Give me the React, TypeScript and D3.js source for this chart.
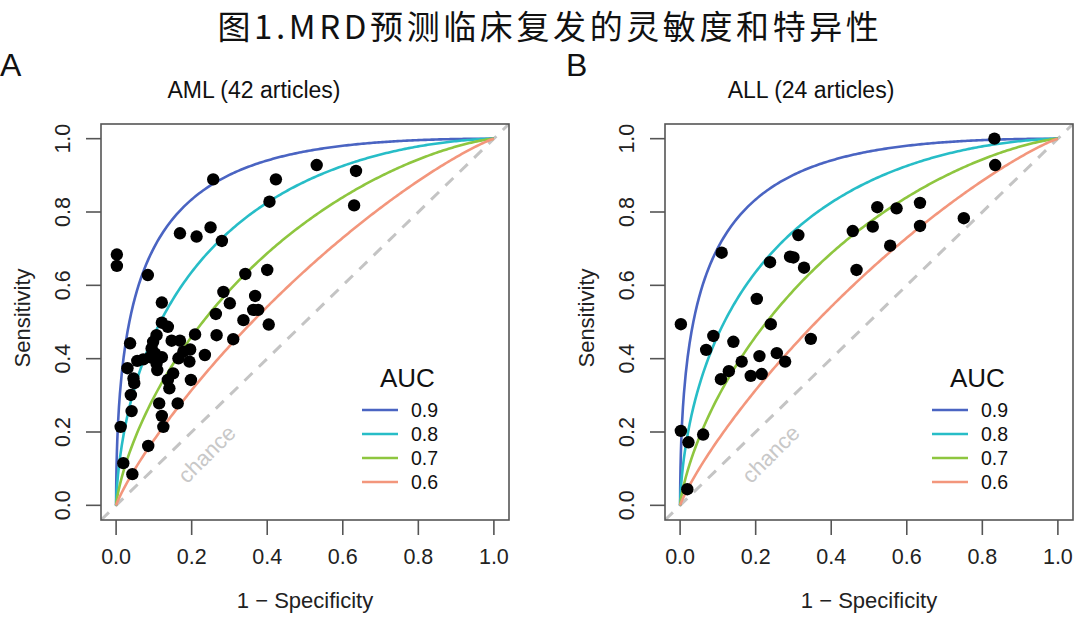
import React from 'react';
import * as d3 from 'd3';

// ---------- data ----------
const AUC_LEVELS = [0.9, 0.8, 0.7, 0.6];
const AUC_COLORS = ['#4a64c2', '#27bdc7', '#8ec63f', '#f3967c'];
const X_TICKS = [0, 0.2, 0.4, 0.6, 0.8, 1.0];
const Y_TICKS = [0, 0.2, 0.4, 0.6, 0.8, 1.0];

const AML_FPR = [
  0.257, 0.423, 0.406, 0.531, 0.635, 0.630, 0.169, 0.213, 0.250, 0.280,
  0.002, 0.002, 0.084, 0.342, 0.400, 0.284, 0.368, 0.301, 0.121, 0.363,
  0.376, 0.264, 0.337, 0.404, 0.121, 0.137, 0.209, 0.266, 0.310, 0.037,
  0.107, 0.098, 0.147, 0.169, 0.235, 0.196, 0.178, 0.194, 0.165, 0.094,
  0.103, 0.090, 0.072, 0.056, 0.121, 0.107, 0.109, 0.030, 0.046, 0.048,
  0.151, 0.137, 0.141, 0.198, 0.039, 0.041, 0.114, 0.163, 0.121, 0.125,
  0.012, 0.085, 0.019, 0.043,
];
const AML_TPR = [
  0.889, 0.889, 0.828, 0.928, 0.912, 0.818, 0.742, 0.733, 0.758, 0.721,
  0.684, 0.653, 0.628, 0.631, 0.642, 0.582, 0.571, 0.551, 0.553, 0.533,
  0.533, 0.522, 0.505, 0.493, 0.498, 0.487, 0.466, 0.464, 0.453, 0.442,
  0.464, 0.446, 0.449, 0.449, 0.410, 0.425, 0.419, 0.392, 0.401, 0.428,
  0.414, 0.404, 0.398, 0.394, 0.404, 0.387, 0.369, 0.374, 0.346, 0.333,
  0.360, 0.342, 0.319, 0.342, 0.301, 0.257, 0.278, 0.278, 0.244, 0.214,
  0.214, 0.162, 0.115, 0.085,
];

const ALL_FPR = [
  0.832, 0.834, 0.522, 0.573, 0.635, 0.457, 0.510, 0.635, 0.751, 0.556,
  0.467, 0.110, 0.313, 0.291, 0.300, 0.238, 0.328, 0.203, 0.002, 0.240,
  0.088, 0.141, 0.069, 0.346, 0.210, 0.163, 0.256, 0.278, 0.129, 0.108,
  0.187, 0.216, 0.002, 0.022, 0.061, 0.019,
];
const ALL_TPR = [
  1.000, 0.928, 0.813, 0.810, 0.825, 0.748, 0.760, 0.762, 0.783, 0.708,
  0.642, 0.689, 0.737, 0.678, 0.676, 0.663, 0.648, 0.563, 0.494, 0.494,
  0.462, 0.446, 0.424, 0.454, 0.407, 0.392, 0.415, 0.392, 0.366, 0.344,
  0.353, 0.358, 0.203, 0.172, 0.193, 0.044,
];

// ---------- binormal ROC helpers ----------
function normCdf(x: number): number {
  const t = 1 / (1 + 0.3275911 * Math.abs(x) / Math.SQRT2);
  const y =
    1 -
    (((((1.061405429 * t - 1.453152027) * t + 1.421413741) * t - 0.284496736) * t + 0.254829592) * t) *
      Math.exp(-(x * x) / 2);
  return x >= 0 ? 0.5 * (1 + y) : 0.5 * (1 - y);
}
function normInv(p: number): number {
  if (p <= 0) return -Infinity;
  if (p >= 1) return Infinity;
  const a = [-3.969683028665376e1, 2.209460984245205e2, -2.759285104469687e2, 1.38357751867269e2, -3.066479806614716e1, 2.506628277459239];
  const b = [-5.447609879822406e1, 1.615858368580409e2, -1.556989798598866e2, 6.680131188771972e1, -1.328068155288572e1];
  const c = [-7.784894002430293e-3, -3.223964580411365e-1, -2.400758277161838, -2.549671010315269, 4.374664141464968, 2.938163982698783];
  const d = [7.784695709041462e-3, 3.224671290700398e-1, 2.445134137142996, 3.754408661907416];
  const pl = 0.02425;
  let q: number, r: number;
  if (p < pl) {
    q = Math.sqrt(-2 * Math.log(p));
    return (((((c[0] * q + c[1]) * q + c[2]) * q + c[3]) * q + c[4]) * q + c[5]) / ((((d[0] * q + d[1]) * q + d[2]) * q + d[3]) * q + 1);
  }
  if (p <= 1 - pl) {
    q = p - 0.5;
    r = q * q;
    return ((((((a[0] * r + a[1]) * r + a[2]) * r + a[3]) * r + a[4]) * r + a[5]) * q) / (((((b[0] * r + b[1]) * r + b[2]) * r + b[3]) * r + b[4]) * r + 1);
  }
  q = Math.sqrt(-2 * Math.log(1 - p));
  return -(((((c[0] * q + c[1]) * q + c[2]) * q + c[3]) * q + c[4]) * q + c[5]) / ((((d[0] * q + d[1]) * q + d[2]) * q + d[3]) * q + 1);
}
function rocCurve(auc: number): [number, number][] {
  const sep = Math.SQRT2 * normInv(auc);
  const grid = [0, 0.0002, 0.0005, 0.001, 0.002, 0.003, 0.005, 0.0075].concat(d3.range(0.01, 1.0001, 0.005));
  return grid.map((f) => {
    if (f <= 0) return [0, 0];
    if (f >= 1) return [1, 1];
    return [f, normCdf(sep + normInv(f))];
  });
}

// ---------- layout ----------
const BOX_TOP = 124;
const BOX_W = 408;
const BOX_H = 396;
const FONT = '"Liberation Sans", Arial, Helvetica, sans-serif';
const AXIS_COL = '#555';

type PanelProps = {
  left: number;
  letter: string;
  letterX: number;
  title: string;
  titleX: number;
  fpr: number[];
  tpr: number[];
  legendDx: number;
};

function Panel({ left, letter, letterX, title, titleX, fpr, tpr, legendDx }: PanelProps) {
  const x = d3.scaleLinear().domain([-0.04, 1.04]).range([left, left + BOX_W]);
  const y = d3.scaleLinear().domain([-0.04, 1.04]).range([BOX_TOP + BOX_H, BOX_TOP]);
  const line = d3
    .line<[number, number]>()
    .x((d) => x(d[0]))
    .y((d) => y(d[1]));
  const bottom = BOX_TOP + BOX_H;
  const clipId = 'clip-' + letter;
  const chanceX = x(0.24);
  const chanceY = y(0.14);
  const lgX = left + legendDx;
  return (
    <g>
      <defs>
        <clipPath id={clipId}>
          <rect x={left} y={BOX_TOP} width={BOX_W} height={BOX_H} />
        </clipPath>
      </defs>
      <text x={letterX} y={76} fontFamily={FONT} fontSize={32} fill="#111">
        {letter}
      </text>
      <text x={titleX} y={98} fontFamily={FONT} fontSize={23} fill="#111" textAnchor="middle">
        {title}
      </text>
      {/* chance line */}
      <g clipPath={`url(#${clipId})`}>
        <line
          x1={x(-0.04)}
          y1={y(-0.04)}
          x2={x(1.04)}
          y2={y(1.04)}
          stroke="#c4c4c4"
          strokeWidth={3}
          strokeDasharray="11 9"
        />
        {AUC_LEVELS.map((a, i) => (
          <path key={a} d={line(rocCurve(a)) || ''} fill="none" stroke={AUC_COLORS[i]} strokeWidth={2.6} />
        ))}
      </g>
      <text
        x={chanceX}
        y={chanceY}
        fontFamily={FONT}
        fontSize={22}
        fill="#c8c8c8"
        textAnchor="middle"
        dominantBaseline="central"
        transform={`rotate(-45 ${chanceX} ${chanceY})`}
      >
        chance
      </text>
      {/* points */}
      {fpr.map((f, i) => (
        <circle key={i} cx={x(f)} cy={y(tpr[i])} r={6.2} fill="#000" />
      ))}
      {/* box */}
      <rect x={left} y={BOX_TOP} width={BOX_W} height={BOX_H} fill="none" stroke={AXIS_COL} strokeWidth={1.6} />
      {/* x axis */}
      {X_TICKS.map((t) => (
        <g key={'x' + t}>
          <line x1={x(t)} x2={x(t)} y1={bottom} y2={bottom + 15} stroke={AXIS_COL} strokeWidth={1.6} />
          <text x={x(t)} y={564} fontFamily={FONT} fontSize={21.5} fill="#222" textAnchor="middle">
            {t.toFixed(1)}
          </text>
        </g>
      ))}
      <text x={left + BOX_W / 2} y={608} fontFamily={FONT} fontSize={22} fill="#222" textAnchor="middle">
        1 − Specificity
      </text>
      {/* y axis */}
      {Y_TICKS.map((t) => (
        <g key={'y' + t}>
          <line x1={left - 15} x2={left} y1={y(t)} y2={y(t)} stroke={AXIS_COL} strokeWidth={1.6} />
          <text
            x={left - 31}
            y={y(t)}
            fontFamily={FONT}
            fontSize={21.5}
            fill="#222"
            textAnchor="middle"
            transform={`rotate(-90 ${left - 31} ${y(t)})`}
          >
            {t.toFixed(1)}
          </text>
        </g>
      ))}
      <text
        x={left - 71}
        y={BOX_TOP + BOX_H / 2 - 4}
        fontFamily={FONT}
        fontSize={22}
        fill="#222"
        textAnchor="middle"
        transform={`rotate(-90 ${left - 71} ${BOX_TOP + BOX_H / 2 - 4})`}
      >
        Sensitivity
      </text>
      {/* legend */}
      <text x={lgX + 18} y={387} fontFamily={FONT} fontSize={26} fill="#111">
        AUC
      </text>
      {AUC_LEVELS.map((a, i) => (
        <g key={'lg' + a}>
          <line x1={lgX} x2={lgX + 36} y1={410 + i * 24} y2={410 + i * 24} stroke={AUC_COLORS[i]} strokeWidth={2.6} />
          <text x={lgX + 49} y={410 + i * 24} fontFamily={FONT} fontSize={19.5} fill="#111" dominantBaseline="central">
            {a.toFixed(1)}
          </text>
        </g>
      ))}
    </g>
  );
}

export default function App() {
  return (
    <svg
      width={1080}
      height={618}
      viewBox="0 0 1080 618"
      style={{ position: 'absolute', left: 0, top: 0, background: '#fff', display: 'block' }}
    >
      <rect x={0} y={0} width={1080} height={618} fill="#fff" />
      <text
        x={550}
        y={39}
        fontFamily={'"Noto Sans CJK SC", sans-serif'}
        fontSize={33}
        letterSpacing={3.6}
        fill="#111"
        textAnchor="middle"
      >
        图1.MRD预测临床复发的灵敏度和特异性
      </text>
      <Panel
        left={101}
        letter="A"
        letterX={0}
        title="AML (42 articles)"
        titleX={254}
        fpr={AML_FPR}
        tpr={AML_TPR}
        legendDx={261}
      />
      <Panel
        left={665}
        letter="B"
        letterX={566}
        title="ALL (24 articles)"
        titleX={811}
        fpr={ALL_FPR}
        tpr={ALL_TPR}
        legendDx={267}
      />
    </svg>
  );
}
